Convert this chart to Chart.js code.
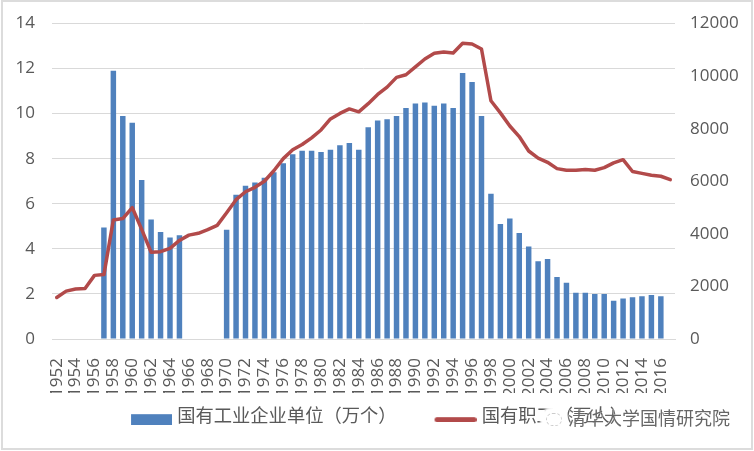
<!DOCTYPE html>
<html>
<head>
<meta charset="utf-8">
<script src="https://cdn.jsdelivr.net/npm/chart.js@4/dist/chart.umd.min.js"></script>
<style>
  body { margin: 0; background: #fff; }
  #wrap { position: relative; width: 754px; height: 451px; overflow: hidden; }
  #frame { position: absolute; left: 1px; top: 0; right: 1px; bottom: 1px; border: 2px solid #dcdcdc; }
  #mark { position: absolute; left: 568px; top: 404px; font: 18px "Noto Sans CJK SC"; color: #666;
          text-shadow: 0 0 1px #fff, 0 0 1px #fff; white-space: nowrap; }
  #icon { position: absolute; left: 546px; top: 413px; width: 14px; height: 11px; border: 1px dashed #ccc; border-radius: 8px; background: #fff; box-shadow: 0 0 2px 6px #fff; }
</style>
</head>
<body>
<div id="wrap">
  <canvas id="chart" width="754" height="451"></canvas>
  <div id="frame"></div>
  <div id="icon"></div>
  <div id="mark">清华大学国情研究院</div>
</div>
<script>
// 1952 - 2017
const years = [];
for (let y = 1952; y <= 2017; y++) years.push(String(y));

// 国有工业企业单位（万个）
const units = [null, null, null, null, null, 4.95, 11.9, 9.9, 9.6, 7.05, 5.3, 4.75, 4.5, 4.6,
  null, null, null, null, 4.85, 6.4, 6.8, 6.95, 7.15, 7.4, 7.8, 8.2, 8.35, 8.35, 8.3, 8.4,
  8.6, 8.7, 8.4, 9.4, 9.7, 9.75, 9.9, 10.25, 10.45, 10.5, 10.35, 10.45, 10.25, 11.8, 11.4,
  9.9, 6.45, 5.1, 5.35, 4.7, 4.1, 3.45, 3.55, 2.75, 2.5, 2.05, 2.05, 2.0, 2.0, 1.7, 1.8,
  1.85, 1.9, 1.95, 1.9, null];

// 国有职工（万人）
const workers = [1580, 1820, 1900, 1920, 2420, 2450, 4530, 4580, 5000, 4170, 3300, 3320, 3450,
  3750, 3950, 4020, 4160, 4320, 4800, 5300, 5600, 5770, 6000, 6400, 6860, 7200, 7400, 7650,
  7950, 8370, 8580, 8750, 8640, 8950, 9300, 9580, 9950, 10050, 10350, 10650, 10870, 10920,
  10880, 11250, 11220, 11030, 9060, 8600, 8100, 7700, 7150, 6880, 6720, 6480, 6420, 6420,
  6450, 6420, 6520, 6700, 6820, 6370, 6300, 6230, 6190, 6060];

const seriesNames = ['国有工业企业单位（万个）', '国有职工（万人）'];

const blue = '#4f81bd';
const red = '#b24a4a';
const textColor = '#595959';
const gridColor = '#d9d9d9';
const numFont = { family: '"Open Sans"', size: 17 };

// legend swatches: blank on the left makes the gap between the two items,
// blank on top pushes them a bit below the text middle
const swatchWidth = 63;
function swatch(w, h, color, round) {
  const c = document.createElement('canvas');
  c.width = swatchWidth + 8;
  c.height = h + 9;
  const g = c.getContext('2d');
  g.fillStyle = color;
  g.beginPath();
  g.roundRect(c.width - w, 9, w, h, round);
  g.fill();
  return c;
}
const swatches = [swatch(41, 11, blue, 0), swatch(42, 5, red, 2.5)];

// fixed axis size, no extra room for half labels
function fixSize(width, height) {
  return function(s) {
    if (width) s.width = width;
    if (height) s.height = height;
    s.paddingTop = 0;
    s.paddingBottom = 0;
    s.paddingLeft = 0;
    s.paddingRight = 0;
  };
}

new Chart(document.getElementById('chart'), {
  type: 'bar',
  data: {
    labels: years,
    datasets: [
      { type: 'line', label: seriesNames[1], data: workers, yAxisID: 'y1', order: 1,
        borderColor: red, backgroundColor: red, borderWidth: 3.5, pointRadius: 0,
        tension: 0, borderJoinStyle: 'round', borderCapStyle: 'round' },
      { type: 'bar', label: seriesNames[0], data: units, yAxisID: 'y', order: 2,
        backgroundColor: blue, categoryPercentage: 1, barPercentage: 0.58 }
    ]
  },
  options: {
    responsive: false,
    animation: false,
    // negative left moves the legend centre off the page centre
    layout: { autoPadding: false, padding: { top: 23.5, left: -21, bottom: 16.7 } },
    plugins: {
      tooltip: { enabled: false },
      legend: {
        position: 'bottom',
        labels: {
          usePointStyle: true,
          pointStyleWidth: swatchWidth,
          boxHeight: 11,
          padding: 13,
          color: textColor,
          font: { family: '"Noto Sans CJK SC"', size: 18.3 },
          generateLabels: function(chart) {
            return seriesNames.map(function(name, i) {
              return { text: name, pointStyle: swatches[i], fontColor: textColor, datasetIndex: 1 - i, lineWidth: 0 };
            });
          }
        }
      }
    },
    scales: {
      x: {
        grid: { display: false },
        border: { color: gridColor },
        afterFit: fixSize(0, 54),
        ticks: {
          autoSkip: false, minRotation: 90, maxRotation: 90, padding: 11,
          color: textColor, font: numFont,
          callback: function(v, i) { return i % 2 === 0 ? this.getLabelForValue(v) : ''; }
        }
      },
      y: {
        position: 'left', min: 0, max: 14,
        afterFit: fixSize(73, 0),
        grid: { color: gridColor, drawTicks: false },
        border: { display: false },
        ticks: { stepSize: 2, padding: 17, color: textColor, font: numFont }
      },
      y1: {
        position: 'right', min: 0, max: 12000,
        afterFit: fixSize(79, 0),
        grid: { display: false, drawTicks: false },
        border: { display: false },
        ticks: { stepSize: 2000, padding: 15, color: textColor, font: numFont,
          callback: function(v) { return String(v); } }
      }
    }
  }
});
</script>
</body>
</html>
